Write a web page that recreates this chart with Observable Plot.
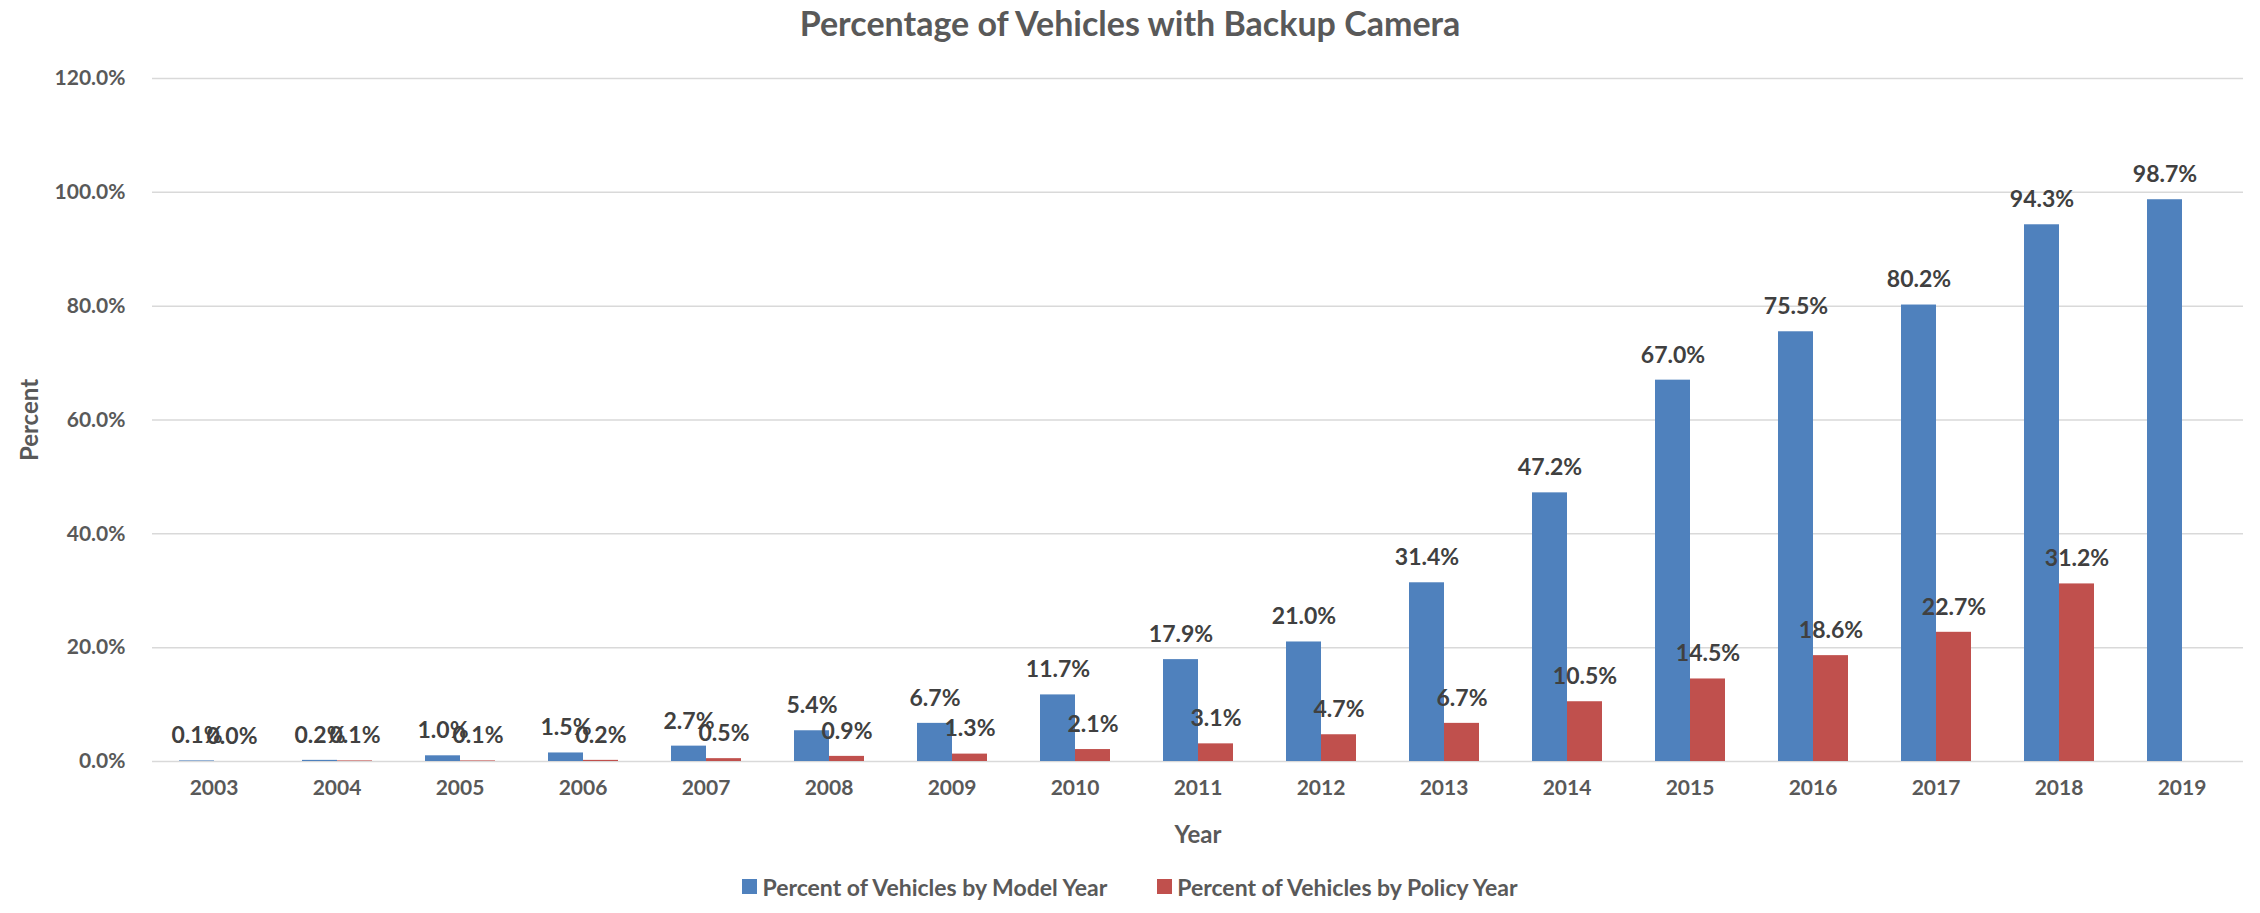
<!DOCTYPE html>
<html>
<head>
<meta charset="utf-8">
<script src="https://cdn.jsdelivr.net/npm/d3@7"></script>
<script src="https://cdn.jsdelivr.net/npm/@observablehq/plot@0.6"></script>
<style>
  body { margin: 0; background: #fff; font-family: Lato, "Open Sans", sans-serif; }
  #title { height: 46px; line-height: 46px; text-align: center; font-size: 34px; font-weight: bold; color: #595959; }
  #legend { height: 53px; display: flex; justify-content: center; align-items: center; font-size: 23px; font-weight: bold; color: #595959; }
  .item { display: flex; align-items: center; }
  .sw { width: 15px; height: 15px; margin-right: 5px; }
  .item + .item { margin-left: 50px; }
</style>
</head>
<body>
<div id="title">Percentage of Vehicles with Backup Camera</div>
<div id="chart"></div>
<div id="legend"></div>
<script>
const years = ["2003","2004","2005","2006","2007","2008","2009","2010","2011","2012","2013","2014","2015","2016","2017","2018","2019"];
const modelYear = [0.1,0.2,1.0,1.5,2.7,5.4,6.7,11.7,17.9,21.0,31.4,47.2,67.0,75.5,80.2,94.3,98.7];
const policyYear = [0.0,0.1,0.1,0.2,0.5,0.9,1.3,2.1,3.1,4.7,6.7,10.5,14.5,18.6,22.7,31.2,null];
const seriesNames = ["Percent of Vehicles by Model Year", "Percent of Vehicles by Policy Year"];
const seriesColors = ["#4F81BD", "#C0504D"];
const yTicks = [0,20,40,60,80,100,120];

const data = [];
years.forEach((y, i) => {
  if (modelYear[i] != null) data.push({year: y, series: seriesNames[0], value: modelYear[i]});
  if (policyYear[i] != null) data.push({year: y, series: seriesNames[1], value: policyYear[i]});
});

const chart = Plot.plot({
  width: 2260,
  height: 814,
  marginTop: 32,
  marginBottom: 99,
  marginLeft: 144,
  marginRight: 9,
  style: { fontFamily: "Lato, 'Open Sans', sans-serif", background: "#fff" },
  fx: { domain: years, padding: 0 },
  x: { domain: seriesNames, paddingInner: 0, paddingOuter: 0.72, axis: null },
  y: { domain: [0, 120] },
  color: { domain: seriesNames, range: seriesColors },
  marks: [
    Plot.gridY(yTicks, { stroke: "#d9d9d9", strokeOpacity: 1, strokeWidth: 1.5 }),
    Plot.barY(data, { fx: "year", x: "series", y: "value", fill: "series" }),
    Plot.text(data, { fx: "year", x: "series", y: "value", text: d => d.value.toFixed(1) + "%", dy: -25, fontSize: 23, fontWeight: "bold", fill: "#404040" }),
    Plot.axisY(yTicks, { tickSize: 0, tickPadding: 27, tickFormat: d => d.toFixed(1) + "%", fontSize: 21, fontWeight: "bold", fill: "#595959", label: null }),
    Plot.axisY(yTicks, { tickSize: 0, text: null, label: "Percent", labelAnchor: "center", labelArrow: "none", labelOffset: 132, fontSize: 24, fontWeight: "bold", fill: "#595959" }),
    Plot.axisFx({ anchor: "bottom", tickSize: 0, tickPadding: 19, fontSize: 21, fontWeight: "bold", fill: "#595959", label: null }),
    Plot.axisFx({ anchor: "bottom", tickSize: 0, text: null, label: "Year", labelAnchor: "center", labelArrow: "none", labelOffset: 81, fontSize: 24, fontWeight: "bold", fill: "#595959" })
  ]
});
document.getElementById("chart").appendChild(chart);

const legend = document.getElementById("legend");
seriesNames.forEach((s, i) => {
  const it = document.createElement("div");
  it.className = "item";
  it.innerHTML = `<span class="sw" style="background:${seriesColors[i]}"></span><span>${s}</span>`;
  legend.appendChild(it);
});
</script>
</body>
</html>
